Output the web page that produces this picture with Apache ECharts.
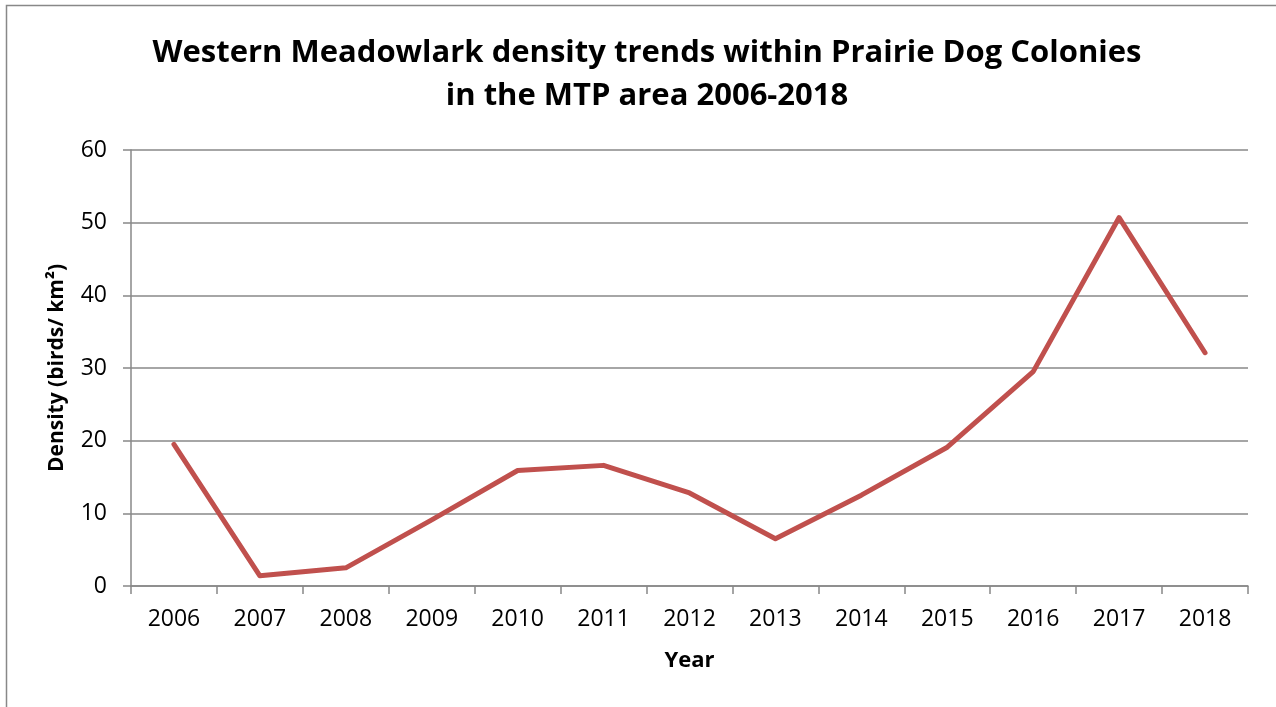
<!DOCTYPE html>
<html><head><meta charset="utf-8">
<script src="https://cdn.jsdelivr.net/npm/echarts@6/dist/echarts.min.js"></script>
<style>html,body{margin:0;padding:0;background:#fff}#c{width:1276px;height:707px}</style>
</head><body><div id="c"></div>
<script>
const years = ['2006','2007','2008','2009','2010','2011','2012','2013','2014','2015','2016','2017','2018'];
const density = [19.5, 1.4, 2.5, 9.1, 15.9, 16.6, 12.8, 6.5, 12.5, 19.1, 29.5, 50.7, 32.1];
const yTicks = [0, 10, 20, 30, 40, 50, 60];
const titleText = 'Western Meadowlark density trends within Prairie Dog Colonies\nin the MTP area 2006-2018';
const xName = 'Year';
const yName = 'Density (birds/ km²)';

const chart = echarts.init(document.getElementById('c'), null, {renderer: 'canvas'});
const F = 'Open Sans';
chart.setOption({
  backgroundColor: '#fff',
  animation: false,
  graphic: [{type: 'rect', shape: {x: 6.5, y: 5.5, width: 1290, height: 720}, style: {fill: 'none', stroke: '#888', lineWidth: 1.5}, silent: true}],
  title: {
    text: titleText, left: 642, top: 27, textAlign: 'center',
    textStyle: {fontFamily: F, fontWeight: 'bold', fontSize: 31, lineHeight: 43, color: '#000'}
  },
  grid: {left: 131, right: 28, top: 150, bottom: 121, containLabel: false},
  xAxis: {
    type: 'category', data: years, boundaryGap: true,
    name: xName, nameLocation: 'middle', nameGap: 64,
    nameTextStyle: {fontFamily: F, fontWeight: 'bold', fontSize: 22, color: '#000'},
    axisLine: {lineStyle: {color: '#888', width: 1.5}},
    axisTick: {show: true, alignWithLabel: false, length: 8, lineStyle: {color: '#888', width: 1.5}},
    axisLabel: {fontFamily: F, fontSize: 23, color: '#000', margin: 22},
    splitLine: {show: false}
  },
  yAxis: {
    type: 'value', min: yTicks[0], max: yTicks[yTicks.length - 1], interval: 10,
    name: yName, nameLocation: 'middle', nameGap: 63, nameRotate: 90,
    nameTextStyle: {fontFamily: F, fontWeight: 'bold', fontSize: 21, color: '#000'},
    axisLine: {show: true, lineStyle: {color: '#888', width: 1.5}},
    axisTick: {show: true, length: 8, inside: false, lineStyle: {color: '#888', width: 1.5}},
    axisLabel: {fontFamily: F, fontSize: 23, color: '#000', margin: 24},
    splitLine: {show: true, lineStyle: {color: '#888', width: 1.5}}
  },
  series: [{
    type: 'line', data: density, symbol: 'none', smooth: false,
    lineStyle: {color: '#C0504D', width: 5, cap: 'round', join: 'round'}
  }]
});
</script></body></html>
